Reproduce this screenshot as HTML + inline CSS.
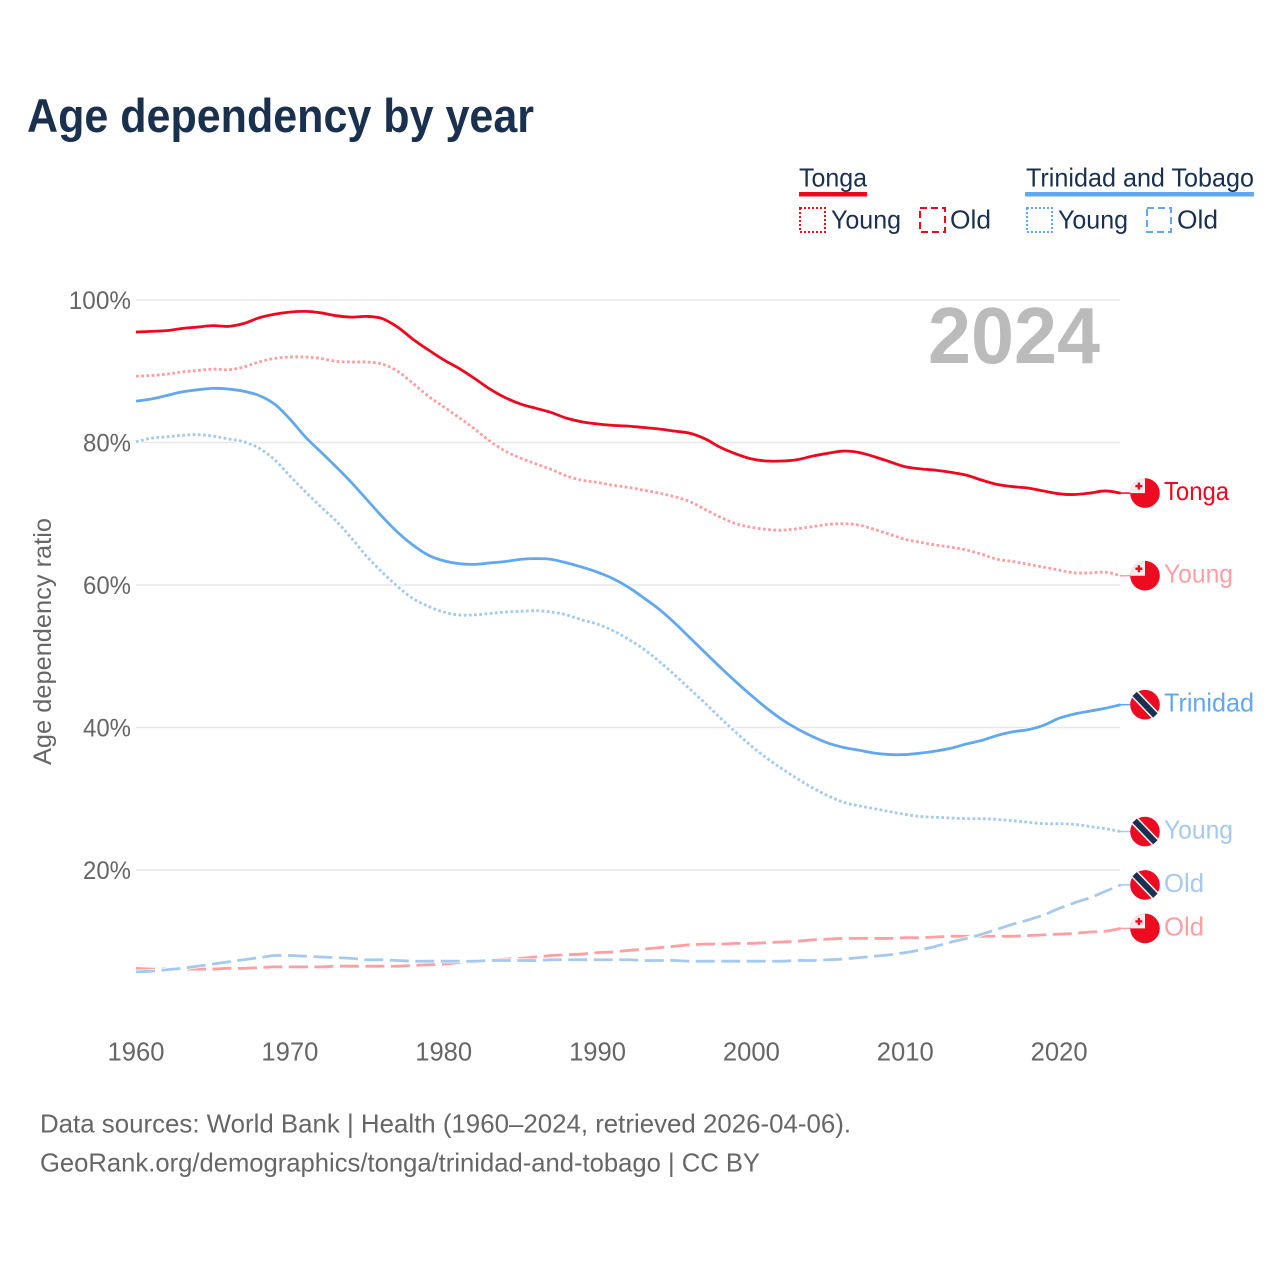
<!DOCTYPE html>
<html lang="en">
<head>
<meta charset="utf-8">
<title>Age dependency by year</title>
<style>
html,body{margin:0;padding:0;background:#fff}
svg{display:block}
text{font-family:"Liberation Sans",Arial,sans-serif}
</style>
</head>
<body>
<svg id="chart" xmlns="http://www.w3.org/2000/svg" width="1280" height="1280" viewBox="0 0 1280 1280">
  <rect width="1280" height="1280" fill="#fff"/>
  <text x="27" y="132" font-size="47" font-weight="700" fill="#1a304f" textLength="507" lengthAdjust="spacingAndGlyphs">Age dependency by year</text>

  <g fill="#1a304f" font-size="26">
    <text x="799" y="186.5" textLength="68" lengthAdjust="spacingAndGlyphs">Tonga</text>
    <rect x="799" y="192" width="68" height="4.5" fill="#f0061d"/>
    <rect x="800" y="208" width="25" height="24" fill="none" stroke="#f0061d" stroke-width="2" stroke-dasharray="2 2"/>
    <text x="831" y="228.5" textLength="70" lengthAdjust="spacingAndGlyphs">Young</text>
    <rect x="920" y="208" width="25" height="24" fill="none" stroke="#f0061d" stroke-width="2" stroke-dasharray="7 4"/>
    <text x="950" y="228.5" textLength="41" lengthAdjust="spacingAndGlyphs">Old</text>
    <text x="1026" y="186.5" textLength="228" lengthAdjust="spacingAndGlyphs">Trinidad and Tobago</text>
    <rect x="1025" y="192" width="229" height="4.5" fill="#62a8ee"/>
    <rect x="1027" y="208" width="25" height="24" fill="none" stroke="#62a8ee" stroke-width="2" stroke-dasharray="2 2"/>
    <text x="1058" y="228.5" textLength="70" lengthAdjust="spacingAndGlyphs">Young</text>
    <rect x="1147" y="208" width="24" height="24" fill="none" stroke="#62a8ee" stroke-width="2" stroke-dasharray="7 4"/>
    <text x="1177" y="228.5" textLength="41" lengthAdjust="spacingAndGlyphs">Old</text>
  </g>

  <g id="grid"></g>
  <g id="yticks"></g>
  <g id="xticks"></g>
  <text transform="translate(51 765) rotate(-90)" font-size="25" fill="#666" textLength="247" lengthAdjust="spacingAndGlyphs">Age dependency ratio</text>
  <text x="1100" y="363" text-anchor="end" font-size="80" font-weight="700" fill="#bbb" textLength="172" lengthAdjust="spacingAndGlyphs">2024</text>
  <g id="series"></g>
  <g id="ends"></g>

  <g font-size="26" fill="#666">
    <text x="40" y="1132.5" textLength="811" lengthAdjust="spacingAndGlyphs">Data sources: World Bank | Health (1960–2024, retrieved 2026-04-06).</text>
    <text x="40" y="1171.5" textLength="720" lengthAdjust="spacingAndGlyphs">GeoRank.org/demographics/tonga/trinidad-and-tobago | CC BY</text>
  </g>
</svg>
<script>
const startYear = 1960;
const xTickLabels = [1960, 1970, 1980, 1990, 2000, 2010, 2020];
const yTickLabels = [20, 40, 60, 80, 100];

const tongaTotal = [
  95.5,95.6,95.7,96.0,96.2,96.4,96.3,96.7,97.5,98.0,
  98.3,98.4,98.2,97.8,97.6,97.7,97.4,96.2,94.5,93.0,
  91.6,90.4,89.0,87.5,86.3,85.4,84.8,84.2,83.4,82.9,
  82.6,82.4,82.3,82.1,81.9,81.6,81.3,80.5,79.3,78.4,
  77.7,77.4,77.4,77.6,78.1,78.5,78.8,78.6,78.0,77.3,
  76.6,76.3,76.1,75.8,75.4,74.7,74.1,73.8,73.6,73.2,
  72.8,72.7,72.9,73.2,72.9];
const tongaYoung = [
  89.3,89.4,89.6,89.9,90.1,90.3,90.2,90.6,91.3,91.8,
  92.0,92.0,91.8,91.4,91.3,91.3,91.0,90.0,88.3,86.5,
  85.0,83.5,81.9,80.2,78.8,77.8,77.0,76.2,75.3,74.7,
  74.4,74.0,73.7,73.3,72.9,72.4,71.7,70.6,69.5,68.6,
  68.1,67.8,67.7,67.9,68.2,68.5,68.6,68.4,67.8,67.1,
  66.4,66.0,65.6,65.3,64.9,64.3,63.6,63.3,62.9,62.5,
  62.1,61.7,61.7,61.8,61.3];
const tongaOld = [
  6.2,6.1,6.1,6.1,6.1,6.1,6.2,6.2,6.3,6.4,
  6.4,6.4,6.4,6.5,6.5,6.5,6.5,6.5,6.6,6.7,
  6.8,7.0,7.1,7.3,7.5,7.6,7.8,8.0,8.1,8.2,
  8.4,8.5,8.7,8.9,9.1,9.3,9.5,9.6,9.6,9.7,
  9.7,9.8,9.9,10.0,10.2,10.3,10.4,10.4,10.4,10.4,
  10.5,10.5,10.6,10.7,10.7,10.7,10.7,10.7,10.8,10.9,
  11.0,11.1,11.3,11.4,11.8];
const trinidadTotal = [
  85.8,86.1,86.6,87.1,87.4,87.6,87.5,87.2,86.6,85.4,
  83.3,80.8,78.7,76.6,74.4,72.0,69.6,67.4,65.6,64.2,
  63.4,63.0,62.9,63.1,63.3,63.6,63.7,63.6,63.1,62.5,
  61.8,60.9,59.7,58.2,56.6,54.7,52.6,50.5,48.4,46.4,
  44.5,42.7,41.1,39.8,38.7,37.8,37.2,36.8,36.4,36.2,
  36.2,36.4,36.7,37.1,37.7,38.2,38.9,39.4,39.7,40.3,
  41.3,41.9,42.3,42.7,43.2];
const trinidadYoung = [
  80.1,80.6,80.8,81.0,81.1,80.9,80.5,80.1,79.2,77.6,
  75.3,73.1,71.0,69.0,66.6,64.0,61.8,59.8,58.1,57.0,
  56.2,55.8,55.8,56.0,56.2,56.3,56.4,56.2,55.8,55.1,
  54.5,53.6,52.4,51.0,49.3,47.4,45.4,43.4,41.3,39.3,
  37.4,35.7,34.2,32.8,31.5,30.4,29.5,29.0,28.6,28.2,
  27.8,27.5,27.4,27.3,27.2,27.2,27.1,26.9,26.7,26.5,
  26.5,26.4,26.1,25.8,25.4];
const trinidadOld = [
  5.7,5.8,6.0,6.2,6.5,6.8,7.1,7.4,7.7,8.0,
  8.0,7.9,7.8,7.7,7.6,7.4,7.4,7.3,7.2,7.2,
  7.2,7.2,7.2,7.3,7.3,7.3,7.3,7.4,7.4,7.4,
  7.4,7.4,7.4,7.3,7.3,7.3,7.2,7.2,7.2,7.2,
  7.2,7.2,7.2,7.3,7.3,7.4,7.5,7.7,7.9,8.1,
  8.4,8.8,9.3,9.9,10.4,11.0,11.7,12.4,13.0,13.7,
  14.6,15.4,16.1,17.0,17.9];

const NS = 'http://www.w3.org/2000/svg';
function xScale(year) { return 136 + (year - 1960) * 15.385; }
function yScale(v) { return 1012.5 - v * 7.125; }
function make(tag, attrs, parent, txt) {
  const el = document.createElementNS(NS, tag);
  for (const k in attrs) el.setAttribute(k, attrs[k]);
  if (txt !== undefined) el.textContent = txt;
  parent.appendChild(el);
  return el;
}

const grid = document.getElementById('grid');
const yticks = document.getElementById('yticks');
const xticks = document.getElementById('xticks');
yTickLabels.forEach(function (v) {
  const line = make('line', {x1: 136, x2: 1120, y1: yScale(v), y2: yScale(v), stroke: '#e8e8e8', 'stroke-width': 1.5}, grid);
  
  
  const t = make('text', {x: 131, y: yScale(v) + 9, 'text-anchor': 'end', 'font-size': 25, fill: '#666', textLength: String(v).length * 14.25 + 19.5, lengthAdjust: 'spacingAndGlyphs'}, yticks, v + '%');
  
  
});
xTickLabels.forEach(function (yr) {
  const t = make('text', {x: xScale(yr), y: 1060.5, 'text-anchor': 'middle', 'font-size': 25.6, fill: '#666'}, xticks, String(yr));
  
  
});

function pathFor(values) {
  const pts = values.map(function (v, i) { return [xScale(startYear + i), yScale(v)]; });
  let d = 'M' + pts[0][0].toFixed(2) + ' ' + pts[0][1].toFixed(2);
  for (let i = 0; i < pts.length - 1; i++) {
    const p0 = pts[Math.max(i - 1, 0)], p1 = pts[i], p2 = pts[i + 1], p3 = pts[Math.min(i + 2, pts.length - 1)];
    const c1x = p1[0] + (p2[0] - p0[0]) / 6, c1y = p1[1] + (p2[1] - p0[1]) / 6;
    const c2x = p2[0] - (p3[0] - p1[0]) / 6, c2y = p2[1] - (p3[1] - p1[1]) / 6;
    d += 'C' + c1x.toFixed(2) + ' ' + c1y.toFixed(2) + ' ' + c2x.toFixed(2) + ' ' + c2y.toFixed(2) + ' ' + p2[0].toFixed(2) + ' ' + p2[1].toFixed(2);
  }
  return d;
}
function drawSeries(values, color, dash, name) {
  const parent = document.getElementById('series');
  const halo = make('path', {d: pathFor(values), fill: 'none', stroke: '#fff', 'stroke-width': 4.2, 'stroke-linejoin': 'round'}, parent);
  
  
  const attrs = {d: pathFor(values), fill: 'none', stroke: color, 'stroke-width': 2.8, 'stroke-linejoin': 'round'};
  if (dash) attrs['stroke-dasharray'] = dash;
  const p = make('path', attrs, parent);
  
  
}
drawSeries(tongaOld, '#ff9ea3', '19 6.5', 'line-tonga-old');
drawSeries(trinidadOld, '#a5c9ef', '19 6.5', 'line-trinidad-old');
drawSeries(tongaYoung, '#ff9ea3', '2.8 2.4', 'line-tonga-young');
drawSeries(trinidadYoung, '#a5c9ef', '2.8 2.4', 'line-trinidad-young');
drawSeries(tongaTotal, '#f0061d', '', 'line-tonga-total');
drawSeries(trinidadTotal, '#62a8ee', '', 'line-trinidad-total');

function flagTonga(g) {
  make('circle', {cx: 0, cy: 0, r: 14.8, fill: '#ee0a20'}, g);
  make('path', {d: 'M0 0H-14.8A14.8 14.8 0 0 1 0 -14.8Z', fill: '#eeeeee'}, g);
  make('rect', {x: -9.6, y: -8.2, width: 7, height: 2.4, fill: '#ee0a20'}, g);
  make('rect', {x: -7.3, y: -10.5, width: 2.4, height: 7, fill: '#ee0a20'}, g);
}
function flagTrinidad(g) {
  make('circle', {cx: 0, cy: 0, r: 14.8, fill: '#ee0a20'}, g);
  make('line', {x1: -10, y1: -10.4, x2: 10, y2: 10.4, stroke: '#f4f4f4', 'stroke-width': 9}, g);
  make('line', {x1: -10.4, y1: -10.8, x2: 10.4, y2: 10.8, stroke: '#1a304f', 'stroke-width': 6}, g);
}
function drawEnd(values, kind, label, color, width, name) {
  const parent = document.getElementById('ends');
  const y = yScale(values[values.length - 1]);
  const leader = make('line', {x1: 1120, x2: 1132, y1: y, y2: y, stroke: color, 'stroke-width': 1.5}, parent);
  
  
  const g = make('g', {transform: 'translate(1145 ' + y + ')'}, parent);
  
  
  if (kind === 'tonga') flagTonga(g); else flagTrinidad(g);
  const t = make('text', {x: 1164, y: y + 7, 'font-size': 26, fill: color, textLength: width, lengthAdjust: 'spacingAndGlyphs'}, parent, label);
  
  
}
drawEnd(tongaTotal, 'tonga', 'Tonga', '#f0061d', 65, 'end-tonga');
drawEnd(tongaYoung, 'tonga', 'Young', '#ff9ea3', 69, 'end-tonga-young');
drawEnd(trinidadTotal, 'trinidad', 'Trinidad', '#62a8ee', 90, 'end-trinidad');
drawEnd(trinidadYoung, 'trinidad', 'Young', '#a5c9ef', 69, 'end-trinidad-young');
drawEnd(trinidadOld, 'trinidad', 'Old', '#a5c9ef', 40, 'end-trinidad-old');
drawEnd(tongaOld, 'tonga', 'Old', '#ff9ea3', 40, 'end-tonga-old');
</script>
</body>
</html>
